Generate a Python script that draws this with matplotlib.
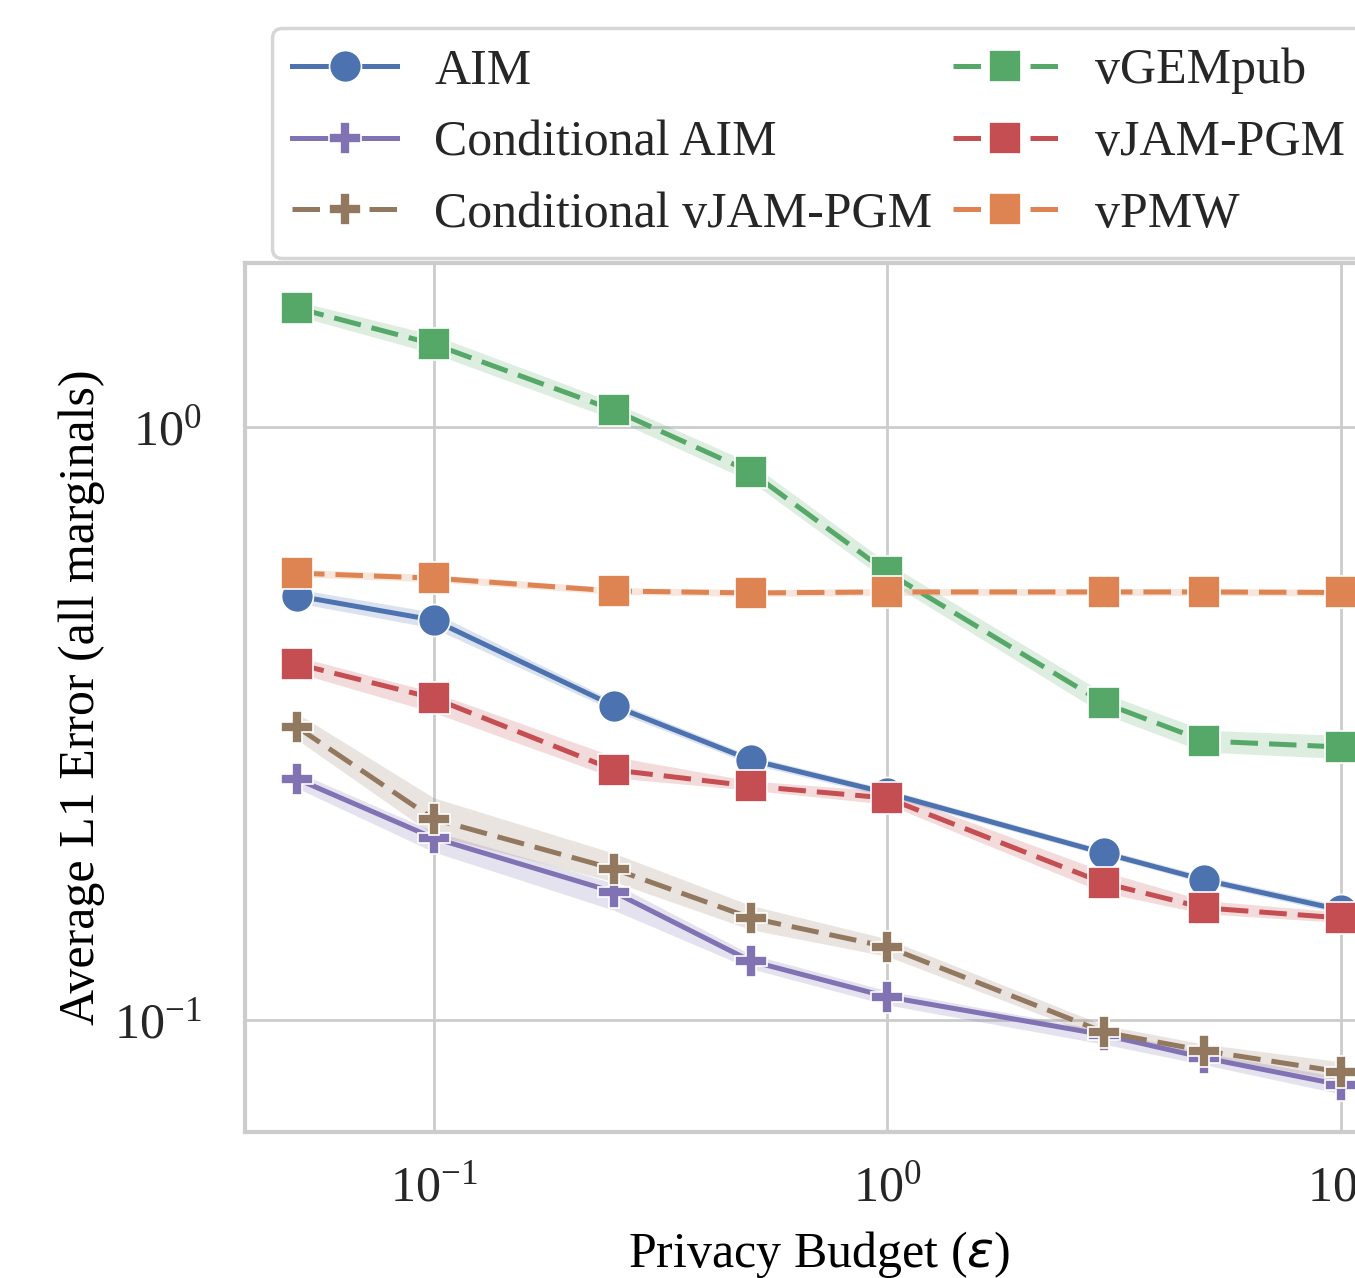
import numpy as np
import matplotlib
matplotlib.use("Agg")
from matplotlib import pyplot as plt

# Privacy budgets (x) and average L1 error per method
eps = [0.05, 0.1, 0.25, 0.5, 1.0, 3.0, 5.0, 10.0]

methods = ["AIM", "Conditional AIM", "Conditional vJAM-PGM",
           "vGEMpub", "vJAM-PGM", "vPMW"]

aim_mean = [0.519, 0.4725, 0.3385, 0.2745, 0.2414, 0.1912, 0.1722, 0.1533]
aim_lo = [0.505, 0.458, 0.332, 0.270, 0.238, 0.189, 0.170, 0.151]
aim_hi = [0.533, 0.487, 0.345, 0.279, 0.245, 0.194, 0.175, 0.156]

caim_mean = [0.2549, 0.2027, 0.1643, 0.1257, 0.1094, 0.0944, 0.0863, 0.0777]
caim_lo = [0.246, 0.192, 0.153, 0.122, 0.106, 0.091, 0.084, 0.075]
caim_hi = [0.262, 0.208, 0.170, 0.129, 0.112, 0.096, 0.088, 0.080]

cjam_mean = [0.3119, 0.2182, 0.1797, 0.1486, 0.1328, 0.0954, 0.0887, 0.0817]
cjam_lo = [0.297, 0.205, 0.171, 0.142, 0.128, 0.093, 0.087, 0.079]
cjam_hi = [0.329, 0.237, 0.191, 0.156, 0.137, 0.098, 0.091, 0.085]

gem_mean = [1.587, 1.380, 1.068, 0.840, 0.569, 0.3424, 0.2954, 0.2886]
gem_lo = [1.54, 1.33, 1.03, 0.81, 0.55, 0.328, 0.283, 0.276]
gem_hi = [1.63, 1.43, 1.10, 0.87, 0.59, 0.356, 0.308, 0.302]

jam_mean = [0.3984, 0.349, 0.264, 0.248, 0.2367, 0.1702, 0.1545, 0.1486]
jam_lo = [0.385, 0.330, 0.256, 0.244, 0.231, 0.164, 0.151, 0.146]
jam_hi = [0.410, 0.357, 0.278, 0.253, 0.243, 0.178, 0.159, 0.152]

pmw_mean = [0.567, 0.556, 0.529, 0.525, 0.527, 0.527, 0.527, 0.526]
pmw_lo = [0.559, 0.548, 0.522, 0.518, 0.520, 0.520, 0.520, 0.519]
pmw_hi = [0.575, 0.564, 0.536, 0.532, 0.534, 0.534, 0.534, 0.533]

means = [aim_mean, caim_mean, cjam_mean, gem_mean, jam_mean, pmw_mean]
lows = [aim_lo, caim_lo, cjam_lo, gem_lo, jam_lo, pmw_lo]
highs = [aim_hi, caim_hi, cjam_hi, gem_hi, jam_hi, pmw_hi]

# seaborn "deep" colours
colors = ["#4C72B0", "#8172B3", "#937860", "#55A868", "#C44E52", "#DD8452"]
markers = ["o", "P", "P", "s", "s", "s"]
dashed = [False, False, True, True, True, True]

plt.rcParams["font.family"] = "serif"
plt.rcParams["font.serif"] = ["Liberation Serif", "DejaVu Serif"]
plt.rcParams["mathtext.fontset"] = "dejavusans"
plt.rcParams["font.size"] = 36
plt.rcParams["text.color"] = "#262626"
plt.rcParams["xtick.color"] = "#262626"
plt.rcParams["ytick.color"] = "#262626"

fig = plt.figure(figsize=(13.55, 12.78), dpi=100)
ax = fig.add_axes([245 / 1355, 1 - 1132 / 1278, 1148 / 1355, 869 / 1278])

lines = []
for i in range(len(methods)):
    ax.fill_between(eps, lows[i], highs[i], color=colors[i], alpha=0.2,
                    linewidth=0, zorder=2 + i * 0.1)
    ln, = ax.plot(eps, means[i], color=colors[i], marker=markers[i],
                  markersize=23, markeredgecolor="white", markeredgewidth=1.2,
                  linewidth=3.6, label=methods[i], zorder=3 + i * 0.1)
    if dashed[i]:
        ln.set_dashes((5.5, 2.2))
    lines.append(ln)

ax.set_xscale("log")
ax.set_yscale("log")
ax.set_xlim(0.0384, 13.03)
ax.set_ylim(0.0647, 1.891)
ax.set_xticks([0.1, 1, 10])
ax.set_yticks([0.1, 1])
ax.minorticks_off()

ax.grid(True, color="#cccccc", linewidth=2.0)
ax.set_axisbelow(True)
for s in ax.spines.values():
    s.set_color("#cccccc")
    s.set_linewidth(3.0)
ax.tick_params(length=0, labelsize=36)
ax.tick_params(axis="x", pad=24)
ax.tick_params(axis="y", pad=31)

ax.set_xlabel(r"Privacy Budget ($\varepsilon$)", fontsize=36, labelpad=12)
ax.set_ylabel("Average L1 Error (all marginals)", fontsize=36, labelpad=7)

leg = fig.legend(handles=lines, loc="upper left",
                 bbox_to_anchor=(272 / 1355, 1 - 28 / 1278),
                 ncol=2, fontsize=36, columnspacing=0.4, handlelength=2.1,
                 handletextpad=0.75, labelspacing=0.5, borderpad=0.4,
                 borderaxespad=0, fancybox=True, framealpha=0.8)
leg.get_frame().set_edgecolor("#cccccc")
leg.get_frame().set_linewidth(2.5)

fig.savefig("out.png", dpi=100)
